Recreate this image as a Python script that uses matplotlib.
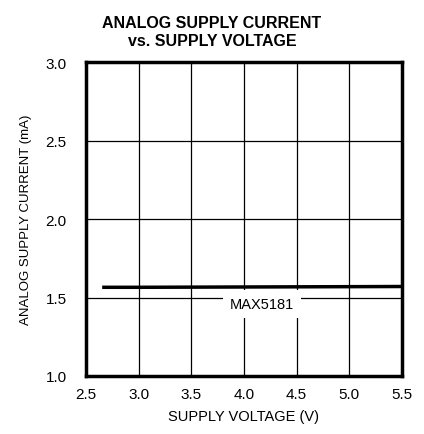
import matplotlib.pyplot as plt
import numpy as np

plt.rcParams['font.family'] = ['Liberation Sans', 'DejaVu Sans']

# data
volts = [2.67, 3.0, 3.5, 4.0, 4.5, 5.0, 5.5]
current = [1.565, 1.565, 1.566, 1.567, 1.568, 1.569, 1.57]
x_ticks = [2.5, 3.0, 3.5, 4.0, 4.5, 5.0, 5.5]
y_ticks = [1.0, 1.5, 2.0, 2.5, 3.0]

fig = plt.figure(figsize=(4.24, 4.35), dpi=100)
ax = fig.add_axes([86/424, 1-377/435, 316/424, 314/435])

ax.plot(volts, current, color='black', lw=2.5, zorder=3)
ax.set_xlim(2.5, 5.5)
ax.set_ylim(1.0, 3.0)
ax.set_xticks(x_ticks)
ax.set_yticks(y_ticks)
ax.set_xticklabels(['%.1f' % v for v in x_ticks], fontsize=11)
ax.set_yticklabels(['%.1f' % v for v in y_ticks], fontsize=11, rotation=0)
ax.tick_params(axis='x', length=0, pad=8)
ax.tick_params(axis='y', length=0, pad=14)
ax.grid(True, color='black', lw=0.9)
for s in ax.spines.values():
    s.set_linewidth(2.5)

ax.text(4.17, 1.46, 'MAX5181', fontsize=10.5, ha='center', va='center', zorder=4,
        bbox=dict(facecolor='white', edgecolor='none', pad=5))

ax.set_xlabel('SUPPLY VOLTAGE (V)', fontsize=10.5, labelpad=6)
ax.set_ylabel('ANALOG SUPPLY CURRENT (mA)', fontsize=9.5, labelpad=10)
fig.text(0.5, 0.925, 'ANALOG SUPPLY CURRENT\nvs. SUPPLY VOLTAGE', ha='center', va='center',
         fontsize=11.5, fontweight='bold', linespacing=1.25)

fig.savefig('out.png', dpi=100)
